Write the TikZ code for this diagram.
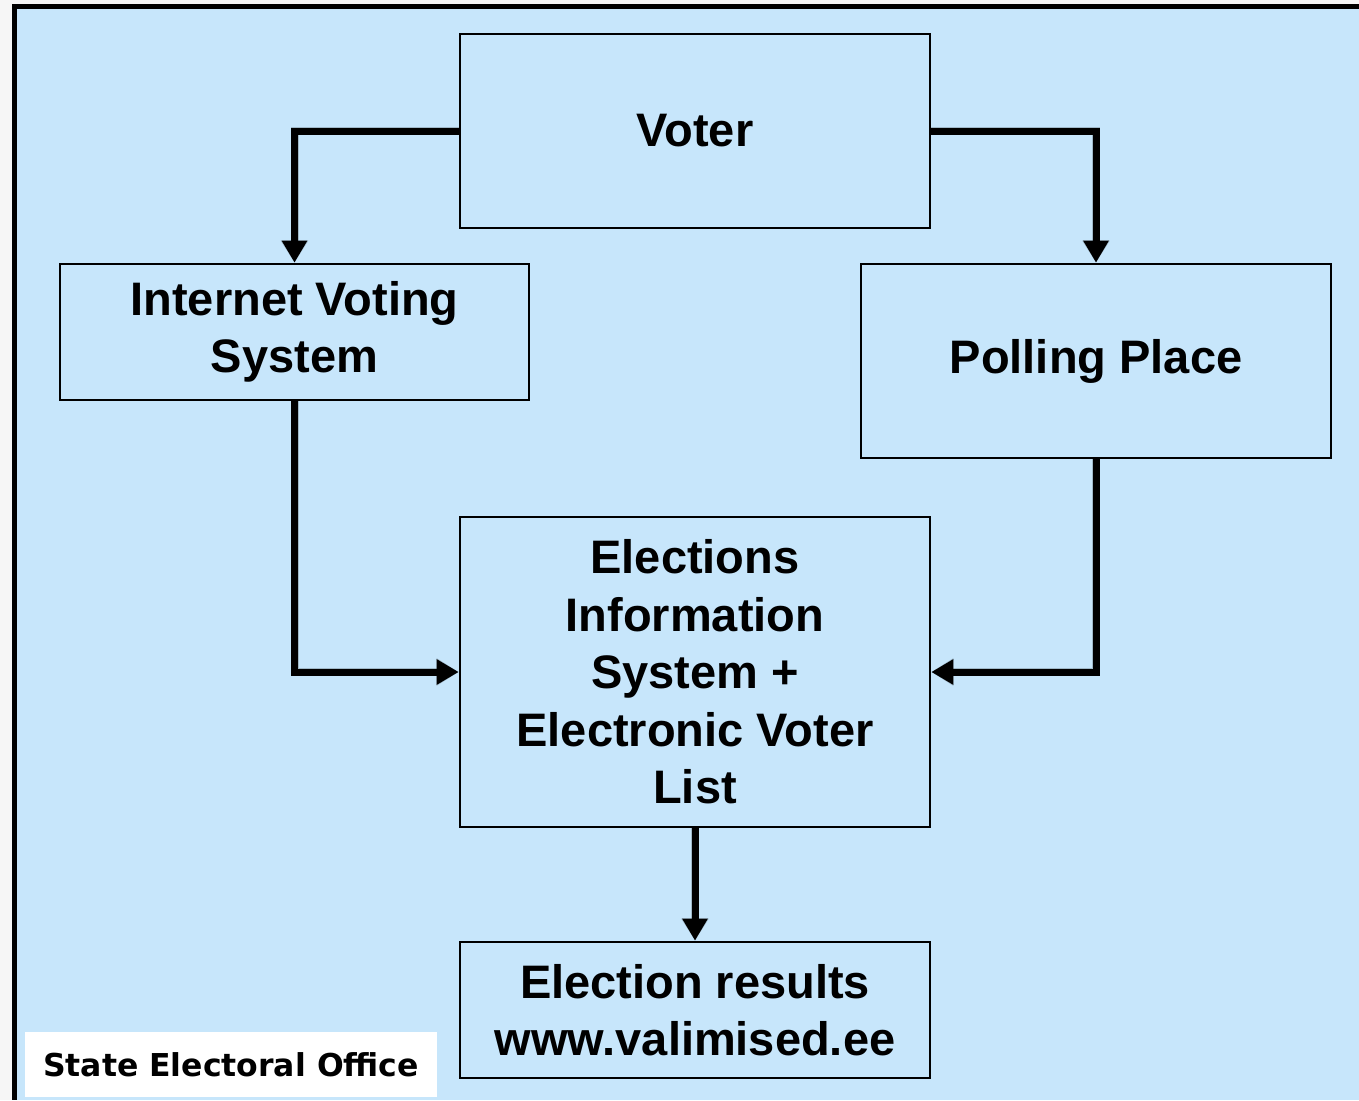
\documentclass[tikz,border=0pt]{standalone}
\usepackage{fontspec}
\setmainfont{Liberation Sans}
\newfontfamily\labelfont{DejaVu Sans}
\usetikzlibrary{arrows.meta}
\definecolor{bgblue}{RGB}{199,230,251}
\definecolor{margin}{RGB}{246,246,246}
\tikzset{
  box/.style={draw=black, line width=2.6pt, inner sep=0pt, align=center,
    font=\fontsize{47}{57.5}\selectfont\bfseries},
  arr/.style={line width=7pt, -{Triangle[length=22pt,width=24pt]}},
  shadowarr/.style={line width=8pt, draw=black, opacity=0.2, -{Triangle[length=22pt,width=26pt]}},
}
\begin{document}
\begin{tikzpicture}[x=1pt,y=-1pt]
\useasboundingbox (0,0) rectangle (1359,1100);
\fill[margin] (0,0) rectangle (1359,1100);
\fill[black] (12,4) rectangle (1359,1100);
\fill[bgblue] (17,9) rectangle (1359,1100);

\node[box, minimum width=470pt, minimum height=194pt] (voter) at (695,131) {Voter};
\node[box, minimum width=469pt, minimum height=136pt] (ivs) at (294.5,332) {Internet Voting\\System};
\node[box, minimum width=470pt, minimum height=194pt] (poll) at (1096,361) {Polling Place};
\node[box, minimum width=470pt, minimum height=310pt] (eis) at (695,672) {Elections\\Information\\System +\\Electronic Voter\\List};
\node[box, minimum width=470pt, minimum height=136pt] (res) at (695,1010) {Election results\\www.valimised.ee};

\node[fill=white, minimum width=412pt, minimum height=65pt, inner sep=0pt,
  font=\fontsize{31.5}{36}\selectfont\labelfont\bfseries] (seo) at (231,1064.5) {State Electoral Office};

% shadows
\begin{scope}[shift={(3,5)}]
\draw[shadowarr] (voter.west) -| (ivs.north);
\draw[shadowarr] (voter.east) -| (poll.north);
\draw[shadowarr] (ivs.south) |- (eis.west);
\draw[shadowarr] (poll.south) |- (eis.east);
\draw[shadowarr] (eis.south) -- (res.north);
\end{scope}

\draw[arr] (voter.west) -| (ivs.north);
\draw[arr] (voter.east) -| (poll.north);
\draw[arr] (ivs.south) |- (eis.west);
\draw[arr] (poll.south) |- (eis.east);
\draw[arr] (eis.south) -- (res.north);
\end{tikzpicture}
\end{document}
